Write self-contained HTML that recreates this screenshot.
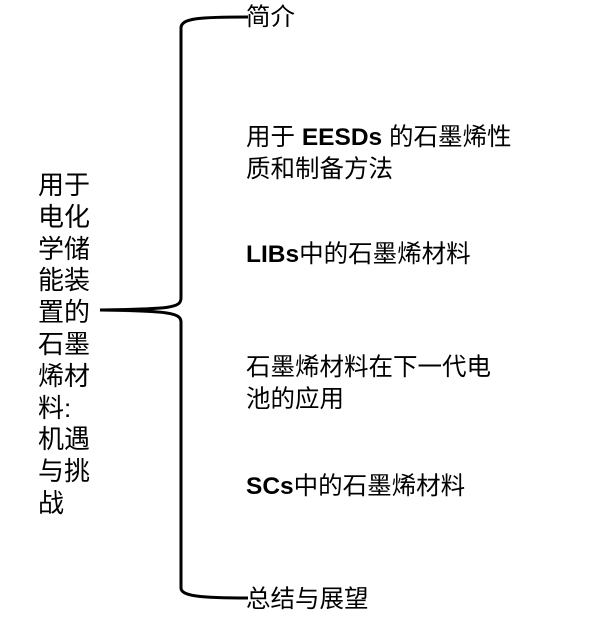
<!DOCTYPE html>
<html><head><meta charset="utf-8"><style>
body{margin:0;width:600px;height:627px;background:#fff;position:relative;overflow:hidden;font-family:"Liberation Sans","Noto Sans CJK SC",sans-serif;color:#000}
.t{position:absolute;font-size:24.5px;line-height:32px;white-space:nowrap}
.t b{font-weight:bold}
#left{position:absolute;left:38px;top:170px;width:60px;font-size:26px;line-height:31.8px}
</style></head><body>
<svg width="600" height="627" style="position:absolute;left:0;top:0">
<path d="M248 17 C200 17 181 18 181 28 L181 298 C181 308 170 309 100 310 C170 311 181 313 181 322 L181 588 C181 596 200 598 248 598" fill="none" stroke="#000" stroke-width="3"/>
</svg>
<div id="left">用于<br>电化<br>学储<br>能装<br>置的<br>石墨<br>烯材<br>料:<br>机遇<br>与挑<br>战</div>
<div class="t" style="left:246px;top:2px">简介</div>
<div class="t" style="left:246px;top:122px">用于 <b>EESDs</b> 的石墨烯性<br>质和制备方法</div>
<div class="t" style="left:246px;top:239px"><b>LIBs</b>中的石墨烯材料</div>
<div class="t" style="left:246px;top:352px">石墨烯材料在下一代电<br>池的应用</div>
<div class="t" style="left:246px;top:471px"><b>SCs</b>中的石墨烯材料</div>
<div class="t" style="left:246px;top:584px">总结与展望</div>
</body></html>
